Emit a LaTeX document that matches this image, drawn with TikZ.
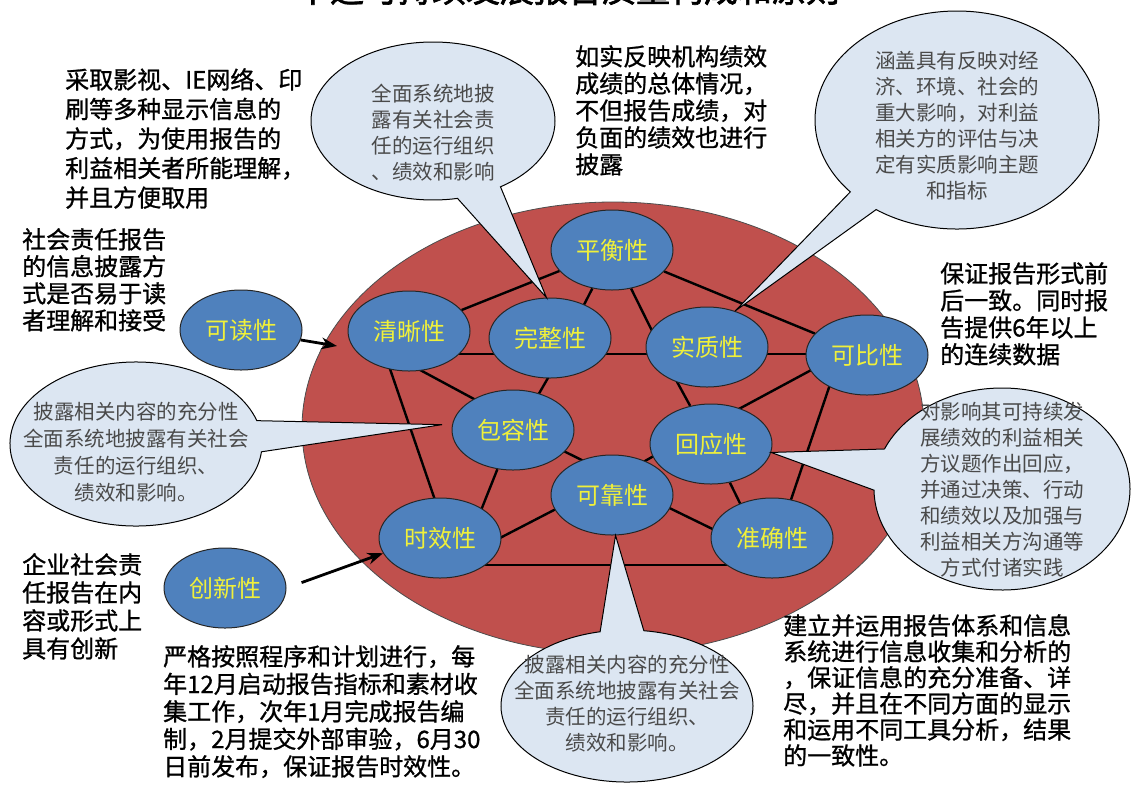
\documentclass[tikz,border=0pt]{standalone}
\usepackage{fontspec}
\setmainfont{Noto Sans CJK SC}
\newfontfamily\notefont{Noto Sans CJK SC}[FakeBold=1]
\newfontfamily\titlefont{Noto Sans CJK SC}[FakeBold=2]
\usetikzlibrary{arrows.meta, shapes.geometric, shapes.callouts, backgrounds}
\tikzset{>={Stealth[scale=1]}}
\definecolor{discred}{HTML}{C0504D}
\definecolor{nodeblue}{HTML}{4F81BD}
\definecolor{labelyellow}{HTML}{F0F03A}
\definecolor{bubblefill}{HTML}{DCE6F2}
\definecolor{bubbletext}{HTML}{4A4A4A}
\tikzset{
  disc/.style={ellipse, draw=black!70, line width=0.8pt, fill=discred,
    minimum width=622pt, minimum height=452pt},
  quality/.style={ellipse, draw=black!85, line width=1pt, fill=nodeblue,
    minimum width=122pt, minimum height=80pt, inner sep=0pt,
    text=labelyellow, font=\fontsize{24}{24}\selectfont},
  link/.style={line width=2.4pt},
  bubble/.style={ellipse callout, draw=black, line width=1pt, fill=bubblefill,
    inner sep=0pt},
  bubbletxt/.style={align=center, text=bubbletext, inner sep=0pt,
    font=\fontsize{20.5}{#1}\selectfont},
  bubbletxt/.default=26,
  note/.style={align=left, anchor=north west, inner sep=0pt,
    font=\notefont\fontsize{24}{#1}\selectfont},
  note/.default=28,
  pointer/.style={->, line width=2.8pt}
}

\begin{document}
\begin{tikzpicture}[x=1pt,y=-1pt]
    \useasboundingbox (0,0) rectangle (1134,785);

    \node[anchor=base, font=\titlefont\fontsize{34}{34}\selectfont] (title) at (568,2)
        {中远可持续发展报告质量构成和原则};

    \begin{scope}[on background layer]
        \node[disc] (pan) at (613,428) {};
    \end{scope}

    \node[quality] (pingheng) at (612,250) {平衡性};
    \node[quality] (qingxi)   at (409,331) {清晰性};
    \node[quality] (wanzheng) at (550,338) {完整性};
    \node[quality] (shizhi)   at (707,347) {实质性};
    \node[quality] (kebi)     at (867,355) {可比性};
    \node[quality] (kedu)     at (241,330) {可读性};
    \node[quality] (baorong)  at (513,430) {包容性};
    \node[quality] (huiying)  at (711,444) {回应性};
    \node[quality] (kekao)    at (612,495) {可靠性};
    \node[quality] (shixiao)  at (440,538) {时效性};
    \node[quality] (zhunque)  at (772,538) {准确性};
    \node[quality] (chuangxin) at (225,588) {创新性};

    \begin{scope}[on background layer]
        \draw[link] (pingheng) -- (qingxi);
        \draw[link] (pingheng) -- ([xshift=17pt]wanzheng.center);
        \draw[link] (pingheng) -- ([xshift=-47pt]shizhi.center);
        \draw[link] (pingheng) -- (kebi);
        \draw[link] (qingxi |- 0,354) -- (kebi |- 0,354);
        \draw[link] ([yshift=-33pt]qingxi.center) -- ([yshift=10pt]baorong.center);
        \draw[link] ([xshift=-32pt]qingxi.center) -- ([xshift=8pt]shixiao.center);
        \draw[link] ([xshift=21pt]wanzheng.center) -- ([xshift=5pt]baorong.center);
        \draw[link] ([xshift=-49pt]shizhi.center) -- (huiying);
        \draw[link] ([yshift=15pt]kebi.center) -- ([yshift=20pt]huiying.center);
        \draw[link] ([xshift=-27pt]kebi.center) -- ([xshift=6pt]zhunque.center);
        \draw[link] ([yshift=4pt]baorong.center) -- ([yshift=20pt]kekao.center);
        \draw[link] (baorong) -- ([xshift=30pt]shixiao.center);
        \draw[link] ([yshift=21pt]huiying.center) -- ([yshift=15pt]kekao.center);
        \draw[link] (huiying) -- ([xshift=-15pt]zhunque.center);
        \draw[link] ([yshift=15pt]kekao.center) -- ([yshift=-31pt]shixiao.center);
        \draw[link] ([yshift=15pt]kekao.center) -- ([yshift=-20pt]zhunque.center);
        \draw[link] (shixiao |- 0,565) -- (zhunque |- 0,565);
    \end{scope}

    \node[bubble, minimum width=244pt, minimum height=158pt, callout pointer arc=22,
        callout absolute pointer={(wanzheng.95)}] (bubtop) at (433,121) {};
    \node[bubble, minimum width=284pt, minimum height=218pt, callout pointer arc=14,
        callout absolute pointer={(shizhi.52)}] (bubmat) at (957,120) {};
    \node[bubble, minimum width=252pt, minimum height=164pt, callout pointer arc=22,
        callout absolute pointer={([xshift=-10pt]baorong.175)}] (bubleft) at (136,444) {};
    \node[bubble, minimum width=256pt, minimum height=202pt, callout pointer arc=24,
        callout absolute pointer={(huiying.-8)}] (bubright) at (1002,489) {};
    \node[bubble, minimum width=252pt, minimum height=152pt, callout pointer arc=20,
        callout absolute pointer={(kekao.-85)}] (bubbottom) at (627,706) {};

    \node[bubbletxt] (txttop) at (433,133) {全面系统地披\\露有关社会责\\任的运行组织\\、绩效和影响};
    \node[bubbletxt] (txtmat) at (957,126) {涵盖具有反映对经\\济、环境、社会的\\重大影响，对利益\\相关方的评估与决\\定有实质影响主题\\和指标};
    \node[bubbletxt=27] (txtleft) at (136,452) {披露相关内容的充分性\\全面系统地披露有关社会\\责任的运行组织、\\绩效和影响。};
    \node[bubbletxt] (txtright) at (1002,490) {对影响其可持续发\\展绩效的利益相关\\方议题作出回应，\\并通过决策、行动\\和绩效以及加强与\\利益相关方沟通等\\方式付诸实践};
    \node[bubbletxt] (txtbottom) at (627,704) {披露相关内容的充分性\\全面系统地披露有关社会\\责任的运行组织、\\绩效和影响。};

    \coordinate (entry) at (337,346);
    \draw[pointer] (kedu) -- (entry);
    \draw[pointer, shorten <=16pt] (chuangxin.east) -- (shixiao.195);

    \node[note=29.5] (noteread) at (65,68) {采取影视、IE网络、印\\刷等多种显示信息的\\方式，为使用报告的\\利益相关者所能理解，\\并且方便取用};
    \node[note=27] (notebal) at (575,45) {如实反映机构绩效\\成绩的总体情况，\\不但报告成绩，对\\负面的绩效也进行\\披露};
    \node[note=27] (noteclear) at (22,228) {社会责任报告\\的信息披露方\\式是否易于读\\者理解和接受};
    \node[note=27] (notecomp) at (940,262) {保证报告形式前\\后一致。同时报\\告提供6年以上\\的连续数据};
    \node[note=28] (noteinno) at (22,553) {企业社会责\\任报告在内\\容或形式上\\具有创新};
    \node[note=27.5] (notetime) at (163,645) {严格按照程序和计划进行，每\\年12月启动报告指标和素材收\\集工作，次年1月完成报告编\\制，2月提交外部审验，6月30\\日前发布，保证报告时效性。};
    \node[note=26] (noteacc) at (783,614) {建立并运用报告体系和信息\\系统进行信息收集和分析的\\，保证信息的充分准备、详\\尽，并且在不同方面的显示\\和运用不同工具分析，结果\\的一致性。};
\end{tikzpicture}
\end{document}
